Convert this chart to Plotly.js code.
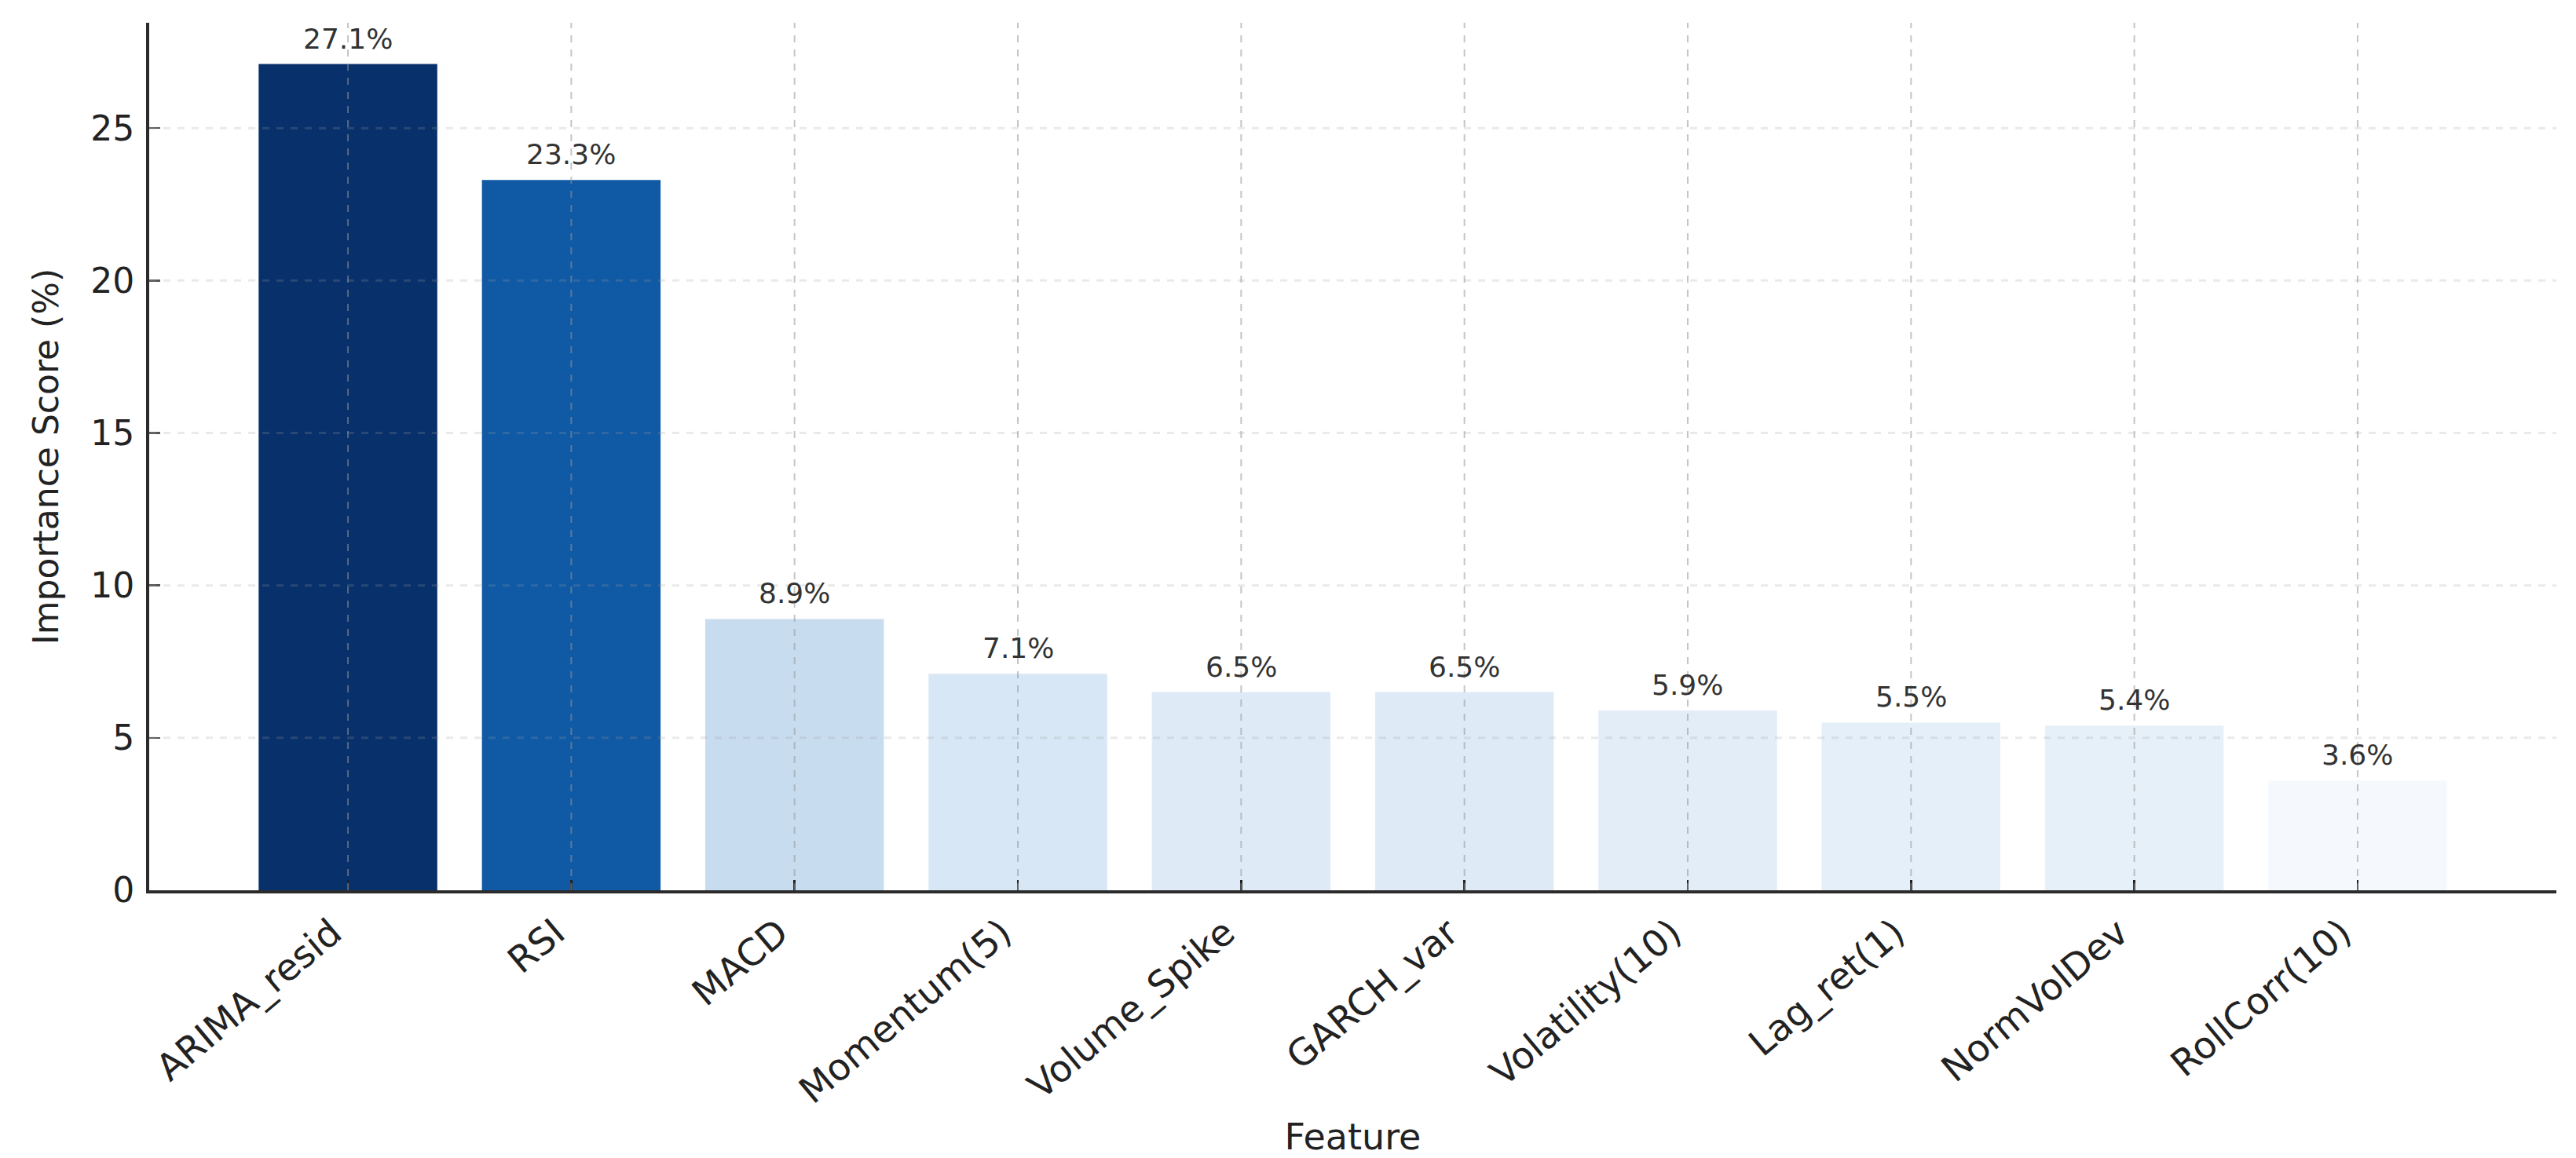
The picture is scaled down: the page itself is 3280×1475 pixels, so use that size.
<!DOCTYPE html>
<html>
<head>
<meta charset="utf-8">
<script src="https://cdn.plot.ly/plotly-3.0.1.min.js"></script>
<style>
  html, body { margin: 0; padding: 0; background: #fff; }
  #chart { width: 3280px; height: 1475px; }
</style>
</head>
<body>
<div id="chart"></div>
<script>
// feature names and importance scores (%)
var features = ["ARIMA_resid", "RSI", "MACD", "Momentum(5)", "Volume_Spike",
                "GARCH_var", "Volatility(10)", "Lag_ret(1)", "NormVolDev", "RollCorr(10)"];
var scores = [27.1, 23.3, 8.9, 7.1, 6.5, 6.5, 5.9, 5.5, 5.4, 3.6];
var barColors = ["#08306b", "#1059a4", "#c8dcf0", "#d8e7f5", "#deebf7",
                 "#deebf7", "#e2edf8", "#e4eff9", "#e6f0f9", "#f5f9fe"];
var yTicks = [0, 5, 10, 15, 20, 25];

var fontFam = "DejaVu Sans, Liberation Sans, sans-serif";

var trace = {
  type: "bar",
  x: features,
  y: scores,
  width: 0.8,
  marker: { color: barColors, line: { width: 0 } },
  hoverinfo: "x+y"
};

// value labels above the bars
var labels = features.map(function (f, i) {
  return {
    x: f, y: scores[i], xref: "x", yref: "y",
    text: scores[i].toFixed(1) + "%",
    showarrow: false, yanchor: "bottom", yshift: 10,
    font: { family: fontFam, size: 36, color: "#333" }
  };
});

// dashed grid drawn over the bars, like the original
var gridShapes = [];
features.forEach(function (f) {
  gridShapes.push({
    type: "line", layer: "above", xref: "x", yref: "paper",
    x0: f, x1: f, y0: 0, y1: 1,
    line: { color: "rgba(150,150,150,0.55)", width: 2, dash: "dash" }
  });
});
yTicks.slice(1).forEach(function (v) {
  gridShapes.push({
    type: "line", layer: "above", xref: "paper", yref: "y",
    x0: 0, x1: 1, y0: v, y1: v,
    line: { color: "rgba(160,160,160,0.22)", width: 3, dash: "dash" }
  });
});

var layout = {
  width: 3280,
  height: 1475,
  margin: { l: 190, r: 25, t: 29, b: 341 },
  paper_bgcolor: "#fff",
  plot_bgcolor: "#fff",
  showlegend: false,
  font: { family: fontFam, color: "#222" },
  xaxis: {
    type: "category",
    range: [-0.89, 9.89],
    showgrid: false,
    zeroline: false,
    showline: true, linecolor: "#2b2b2b", linewidth: 4,
    ticks: "inside", ticklen: 13, tickwidth: 2.5, tickcolor: "#222",
    tickangle: -40,
    ticklabelstandoff: 4,
    ticklabelshift: -20,
    tickfont: { family: fontFam, size: 47, color: "#222" },
    title: { text: "Feature", standoff: 18, font: { family: fontFam, size: 46, color: "#222" } }
  },
  yaxis: {
    range: [0, 28.455],
    tickvals: yTicks,
    showgrid: false,
    zeroline: false,
    showline: true, linecolor: "#2b2b2b", linewidth: 4,
    ticks: "inside", ticklen: 14, tickwidth: 2.5, tickcolor: "#555",
    ticklabelstandoff: 6,
    tickfont: { family: fontFam, size: 44, color: "#222" },
    title: { text: "Importance Score (%)", standoff: 28, font: { family: fontFam, size: 44, color: "#222" } }
  },
  annotations: labels,
  shapes: gridShapes,
  bargap: 0.2
};

Plotly.newPlot("chart", [trace], layout, { displayModeBar: false, staticPlot: true });
</script>
</body>
</html>
